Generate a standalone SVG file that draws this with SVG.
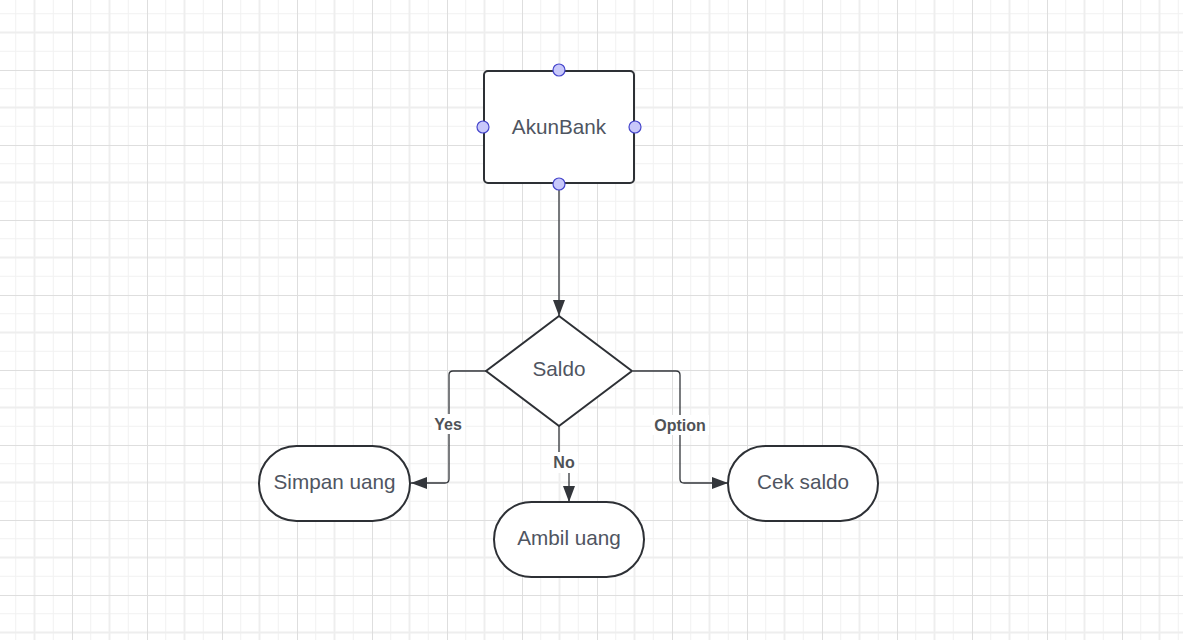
<svg xmlns="http://www.w3.org/2000/svg" width="1183" height="640" viewBox="0 0 1183 640">
<style>
.node{fill:#ffffff;stroke:#2d3035;stroke-width:2}
.txt{font-family:"Liberation Sans",Arial,sans-serif;font-size:20.7px;fill:#4f5561;text-anchor:middle;dominant-baseline:central}
.lbl{font-family:"Liberation Sans",Arial,sans-serif;font-size:16px;font-weight:bold;fill:#4f5257;text-anchor:middle;dominant-baseline:central}
.edge{fill:none;stroke:#33363b;stroke-width:1.3}
.pt{fill:#c8c8fa;stroke:#4646cc;stroke-width:1.2}
</style>
<defs>
<pattern id="grid" x="72" y="70" width="75" height="75" patternUnits="userSpaceOnUse">
<line x1="18.75" y1="0" x2="18.75" y2="75" stroke="#f1f1f1" stroke-width="1"/>
<line x1="56.25" y1="0" x2="56.25" y2="75" stroke="#f1f1f1" stroke-width="1"/>
<line x1="0" y1="18.75" x2="75" y2="18.75" stroke="#f1f1f1" stroke-width="1"/>
<line x1="0" y1="56.25" x2="75" y2="56.25" stroke="#f1f1f1" stroke-width="1"/>
<line x1="37.5" y1="0" x2="37.5" y2="75" stroke="#eeeeee" stroke-width="2"/>
<line x1="0" y1="37.5" x2="75" y2="37.5" stroke="#eeeeee" stroke-width="2"/>
<line x1="0.5" y1="0" x2="0.5" y2="75" stroke="#dedede" stroke-width="1"/>
<line x1="0" y1="0.5" x2="75" y2="0.5" stroke="#dedede" stroke-width="1"/>
</pattern>
<marker id="arr" viewBox="0 0 16 12" refX="16" refY="6" markerWidth="16" markerHeight="12" markerUnits="userSpaceOnUse" orient="auto">
<path d="M0,0 L16,6 L0,12 Z" fill="#33363b"/>
</marker>
</defs>
<rect width="1183" height="640" fill="#ffffff"/>
<rect width="1183" height="640" fill="url(#grid)"/>
<g id="connectors">
<path class="edge" d="M559,183 L559,316" marker-end="url(#arr)"/>
<path class="edge" d="M486,371 L453,371 Q449,371 449,375 L449,479 Q449,483 445,483 L411,483" marker-end="url(#arr)"/>
<path class="edge" d="M559,426 L559,462 L569,462 L569,502" marker-end="url(#arr)"/>
<path class="edge" d="M633,371 L676,371 Q680,371 680,375 L680,479 Q680,483 684,483 L728,483" marker-end="url(#arr)"/>
<g id="label-yes"><rect x="432" y="414" width="33" height="20" fill="#ffffff"/><text class="lbl" x="448" y="424">Yes</text></g>
<g id="label-no"><rect x="550" y="452" width="28" height="21" fill="#ffffff"/><text class="lbl" x="564" y="462">No</text></g>
<g id="label-option"><rect x="651" y="415" width="58" height="20" fill="#ffffff"/><text class="lbl" x="680" y="425">Option</text></g>
</g>
<g id="akunbank">
<rect class="node" x="484" y="71" width="150" height="112" rx="4"/>
<text class="txt" x="559" y="126">AkunBank</text>
<circle class="pt" cx="559" cy="70" r="6"/>
<circle class="pt" cx="483" cy="127" r="6"/>
<circle class="pt" cx="635" cy="127" r="6"/>
<circle class="pt" cx="559" cy="184" r="6"/>
</g>
<g id="saldo">
<path class="node" d="M559,316 L632,371 L559,426 L486,371 Z" stroke-linejoin="round"/>
<text class="txt" x="559" y="368">Saldo</text>
</g>
<g id="simpan">
<rect class="node" x="259" y="446" width="151" height="75" rx="37.5"/>
<text class="txt" x="334.5" y="481">Simpan uang</text>
</g>
<g id="ambil">
<rect class="node" x="494" y="502" width="150" height="75" rx="37.5"/>
<text class="txt" x="569" y="537">Ambil uang</text>
</g>
<g id="cek">
<rect class="node" x="728" y="446" width="150" height="75" rx="37.5"/>
<text class="txt" x="803" y="481">Cek saldo</text>
</g>
</svg>
